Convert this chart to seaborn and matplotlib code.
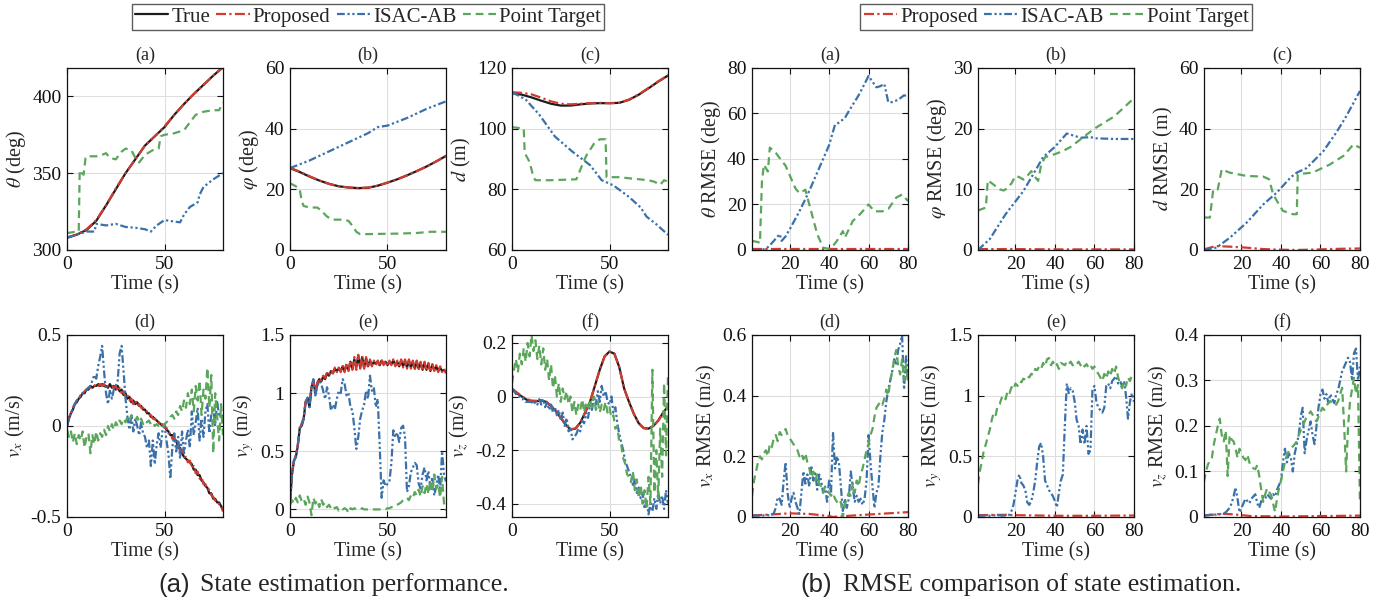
import matplotlib

matplotlib.use("Agg")

import matplotlib.pyplot as plt
import seaborn as sns
from matplotlib.lines import Line2D
from matplotlib.ticker import FuncFormatter

# ---------------- data ----------------
T1 = list(range(0, 81))          # 0..80 s, 1 s step
TR = list(range(1, 81))          # RMSE time axis, 1..80 s
T5 = list(range(0, 81, 5))
T25 = [i * 2.5 for i in range(33)]

# (a) theta
theta_true = [308, 310, 313, 319, 329, 339.5, 350, 359, 368, 374, 380, 388, 395, 401.5, 407.5, 413.5, 419]
theta_prop = [308, 310, 313.5, 319.5, 329, 340, 350, 359, 368, 374, 380.5, 388, 395, 401.5, 407.5, 413.5, 419]
theta_isac_t = [0, 5, 10, 14, 15, 20, 25, 30, 35, 40, 43, 46, 50, 55, 58, 60, 63, 67, 68, 70, 75, 80]
theta_isac = [308, 310, 312, 312, 317, 316, 317, 315, 314.5, 313.5, 312, 316, 319.5, 318.5, 318, 323, 328, 331, 336, 341, 346, 350]
theta_pt_t = [0, 5, 6, 6.5, 7.5, 8.5, 9.5, 10, 15, 18, 20, 22, 25, 28, 30, 33, 35, 37, 40, 44, 47, 48, 50, 55, 60, 63, 66, 70, 75, 78, 80]
theta_pt = [311, 312, 312, 352, 350, 349, 360, 361, 361, 362, 363, 360, 359, 364, 366, 365, 360, 357, 362, 365, 366, 374, 375, 376, 378, 383, 388, 390, 391, 391, 396]

# (b) varphi
phi_true = [27, 25.7, 24.2, 22.9, 21.8, 21, 20.6, 20.4, 20.5, 21.2, 22.2, 23.3, 24.6, 26, 27.5, 29.2, 31]
phi_prop = [27.1, 25.8, 24.3, 22.9, 21.8, 21, 20.6, 20.4, 20.6, 21.2, 22.2, 23.3, 24.6, 26, 27.5, 29.2, 31]
phi_isac_t = [0, 10, 20, 30, 40, 45, 50, 60, 70, 80]
phi_isac = [27, 29.5, 32.5, 35.5, 38.5, 40.5, 41, 43.5, 46.5, 49]
phi_pt_t = [0, 3, 5, 6, 7, 10, 14, 16, 19, 22, 27, 30, 32, 34, 36, 45, 55, 65, 72, 80]
phi_pt = [22, 21, 20, 16, 14.5, 14, 14, 13, 11, 10, 10, 9.6, 8, 6, 5.2, 5.3, 5.4, 5.6, 6, 6]

# (c) d
d_true = [111.7, 111.2, 110.3, 109.2, 108.2, 107.6, 107.6, 108, 108.3, 108.4, 108.4, 108.5, 109.5, 111.2, 113.3, 115.5, 117.5]
d_prop = [112, 111.8, 111.3, 110.2, 109, 108.2, 108, 108.2, 108.4, 108.5, 108.4, 108.5, 109.6, 111.3, 113.4, 115.6, 117.6]
d_isac_t = [0, 7, 14, 22, 31, 40, 46, 52, 60, 66, 69, 74, 80]
d_isac = [112, 109.6, 104.6, 97.4, 92.4, 88, 83, 81.3, 77.5, 74, 71, 68.5, 65]
d_pt_t = [0, 6, 6.5, 9, 11, 12, 20, 33, 36, 38, 42, 45, 48, 48.5, 50, 55, 62, 70, 73, 76, 78, 80]
d_pt = [100.5, 100, 92, 89, 84, 83, 83, 83.3, 88, 91, 95, 96.5, 96.5, 84, 84, 84, 83.5, 83, 82.5, 81.5, 83, 82.5]

# (d) v_x
vx_true = [0.00, 0.04, 0.07, 0.09, 0.12, 0.13, 0.15, 0.16, 0.18, 0.18, 0.20, 0.20, 0.22, 0.21, 0.22, 0.22, 0.23,
           0.22, 0.23, 0.22, 0.22, 0.21, 0.23, 0.21, 0.22, 0.20, 0.22, 0.19, 0.20, 0.17, 0.18, 0.15, 0.16, 0.13,
           0.14, 0.12, 0.13, 0.11, 0.11, 0.09, 0.09, 0.07, 0.07, 0.05, 0.05, 0.04, 0.03, 0.02, 0.01, 0.00, 0.00,
           -0.02, -0.03, -0.05, -0.05, -0.08, -0.08, -0.12, -0.12, -0.15, -0.17, -0.18, -0.19, -0.20, -0.21,
           -0.24, -0.24, -0.27, -0.27, -0.30, -0.31, -0.33, -0.34, -0.37, -0.37, -0.40, -0.40, -0.42, -0.42,
           -0.44, -0.46]
vx_prop = [0.00, 0.05, 0.07, 0.10, 0.12, 0.14, 0.15, 0.17, 0.18, 0.19, 0.20, 0.21, 0.21, 0.22, 0.22, 0.23, 0.22,
           0.23, 0.22, 0.23, 0.21, 0.22, 0.22, 0.22, 0.21, 0.22, 0.19, 0.21, 0.18, 0.19, 0.16, 0.17, 0.14, 0.15,
           0.12, 0.14, 0.11, 0.12, 0.10, 0.10, 0.08, 0.08, 0.06, 0.06, 0.04, 0.04, 0.02, 0.02, 0.00, 0.01, -0.01,
           -0.01, -0.04, -0.04, -0.07, -0.06, -0.10, -0.10, -0.14, -0.13, -0.17, -0.17, -0.20, -0.19, -0.23,
           -0.22, -0.26, -0.25, -0.29, -0.28, -0.32, -0.32, -0.35, -0.35, -0.38, -0.39, -0.41, -0.41, -0.43,
           -0.44, -0.47]
vx_isac = [0.00, 0.05, 0.07, 0.10, 0.12, 0.14, 0.15, 0.17, 0.18, 0.19, 0.20, 0.21, 0.22, 0.25, 0.28, 0.26, 0.33,
           0.38, 0.44, 0.30, 0.18, 0.12, 0.20, 0.15, 0.20, 0.22, 0.25, 0.40, 0.44, 0.30, 0.15, 0.05, -0.02, 0.06,
           -0.03, 0.04, 0.00, -0.05, 0.02, -0.04, -0.06, -0.12, -0.08, -0.22, -0.08, -0.21, -0.10, -0.04, -0.12,
           -0.02, 0.01, -0.08, -0.15, -0.29, -0.12, -0.04, -0.14, -0.06, -0.18, -0.03, -0.15, -0.08, -0.02,
           -0.12, 0.08, -0.05, 0.02, 0.10, -0.08, 0.04, -0.06, 0.08, 0.12, -0.04, 0.06, 0.10, 0.00, 0.14, 0.05,
           0.07, 0.04]
vx_pt = [-0.02, -0.06, -0.03, -0.09, -0.04, -0.10, -0.05, -0.08, -0.03, -0.12, -0.06, -0.04, -0.15, -0.05, -0.10,
         -0.03, -0.08, -0.04, -0.06, -0.02, -0.05, 0.00, -0.03, 0.01, -0.02, 0.02, 0.00, 0.03, 0.01, 0.04, 0.02,
         0.05, 0.03, 0.06, 0.04, 0.03, 0.05, 0.02, 0.04, 0.01, 0.03, 0.02, 0.03, 0.01, 0.02, 0.00, 0.01, 0.00,
         0.00, -0.01, 0.01, 0.02, 0.03, 0.05, 0.06, 0.04, 0.08, 0.06, 0.11, 0.08, 0.14, 0.10, 0.18, 0.12, 0.20,
         0.08, 0.22, 0.14, 0.25, 0.06, 0.20, 0.15, 0.32, 0.10, 0.28, -0.15, 0.18, 0.05, -0.08, 0.12, -0.05]

# (e) v_y
vy_true = [0.05, 0.30, 0.42, 0.45, 0.55, 0.70, 0.72, 0.78, 0.92, 0.96, 0.88, 1.05, 1.10, 1.00, 1.08, 1.12, 1.10,
           1.14, 1.12, 1.17, 1.15, 1.19, 1.17, 1.21, 1.19, 1.21, 1.19, 1.23, 1.19, 1.24, 1.20, 1.27, 1.21, 1.29,
           1.22, 1.32, 1.22, 1.31, 1.22, 1.30, 1.23, 1.28, 1.24, 1.27, 1.25, 1.27, 1.24, 1.28, 1.25, 1.27, 1.24,
           1.27, 1.25, 1.28, 1.24, 1.27, 1.23, 1.28, 1.23, 1.28, 1.22, 1.28, 1.22, 1.27, 1.21, 1.27, 1.21, 1.26,
           1.20, 1.26, 1.20, 1.25, 1.19, 1.24, 1.20, 1.23, 1.19, 1.22, 1.19, 1.20, 1.18]
vy_prop = [0.06, 0.32, 0.41, 0.47, 0.56, 0.69, 0.74, 0.79, 0.93, 0.95, 0.90, 1.06, 1.11, 1.01, 1.09, 1.13, 1.11,
           1.15, 1.13, 1.18, 1.16, 1.20, 1.17, 1.22, 1.18, 1.22, 1.18, 1.24, 1.18, 1.26, 1.19, 1.28, 1.20, 1.31,
           1.20, 1.33, 1.21, 1.32, 1.21, 1.31, 1.22, 1.29, 1.23, 1.28, 1.24, 1.28, 1.23, 1.29, 1.24, 1.28, 1.23,
           1.28, 1.24, 1.29, 1.23, 1.28, 1.22, 1.29, 1.22, 1.29, 1.21, 1.29, 1.21, 1.28, 1.20, 1.28, 1.20, 1.27,
           1.19, 1.27, 1.19, 1.26, 1.18, 1.25, 1.19, 1.24, 1.18, 1.23, 1.18, 1.21, 1.17]
vy_isac = [0.05, 0.30, 0.42, 0.45, 0.55, 0.70, 0.72, 0.78, 0.92, 0.96, 0.88, 1.05, 1.12, 0.98, 1.06, 1.10, 1.08,
           1.02, 0.95, 1.05, 0.98, 0.85, 0.90, 0.86, 0.95, 1.02, 1.00, 1.12, 1.08, 0.98, 1.00, 0.88, 0.85, 0.70,
           0.52, 0.62, 0.78, 0.85, 0.90, 1.02, 0.95, 1.15, 1.02, 1.05, 0.88, 0.95, 0.55, 0.10, 0.25, 0.20, 0.22,
           0.24, 0.40, 0.68, 0.62, 0.66, 0.58, 0.70, 0.72, 0.62, 0.15, 0.20, 0.32, 0.36, 0.40, 0.38, 0.22, 0.18,
           0.30, 0.36, 0.25, 0.33, 0.18, 0.28, 0.12, 0.20, 0.30, 0.16, 0.50, 0.30, 0.24]
vy_pt = [0.04, 0.08, 0.05, 0.10, 0.06, 0.12, 0.07, 0.09, 0.04, 0.11, 0.06, -0.05, 0.10, 0.05, 0.08, 0.02, 0.09,
         0.04, 0.06, 0.02, 0.04, 0.01, 0.03, 0.01, 0.02, -0.01, 0.01, 0.00, 0.01, 0.00, -0.03, 0.01, 0.00, 0.01,
         0.00, 0.00, 0.00, 0.01, 0.00, 0.00, 0.00, 0.00, 0.00, 0.00, 0.00, 0.00, 0.00, 0.00, 0.00, 0.00, 0.01,
         0.01, 0.02, 0.02, 0.03, 0.04, 0.05, 0.06, 0.08, 0.09, 0.10, 0.08, 0.12, 0.10, 0.15, 0.12, 0.17, 0.11,
         0.20, 0.14, 0.22, 0.13, 0.25, 0.15, 0.30, 0.18, 0.22, 0.10, 0.28, 0.05, -0.01]

# (f) v_z
vz_true = [0.027, 0.012, 0.0, -0.012, -0.018, -0.018, -0.015, -0.02, -0.035, -0.055, -0.08, -0.105, -0.123,
           -0.12, -0.098, -0.06, -0.02, 0.04, 0.10, 0.15, 0.168, 0.16, 0.11, 0.03, -0.02, -0.065, -0.10, -0.118,
           -0.12, -0.11, -0.09, -0.06, -0.037]
vz_prop = [0.03, 0.015, 0.002, -0.01, -0.015, -0.016, -0.014, -0.02, -0.034, -0.054, -0.079, -0.104, -0.122,
           -0.12, -0.097, -0.06, -0.02, 0.04, 0.10, 0.15, 0.168, 0.16, 0.11, 0.03, -0.02, -0.065, -0.10, -0.118,
           -0.12, -0.11, -0.09, -0.06, -0.035]
vz_isac = [0.03, 0.02, 0.01, 0.00, 0.00, -0.01, -0.01, -0.02, -0.02, -0.02, -0.02, -0.03, -0.02, -0.03, -0.01,
           -0.03, -0.01, -0.04, -0.02, -0.05, -0.03, -0.06, -0.04, -0.07, -0.05, -0.09, -0.06, -0.11, -0.08,
           -0.13, -0.12, -0.16, -0.15, -0.14, -0.12, -0.13, -0.09, -0.10, -0.06, -0.08, -0.03, -0.05, 0.00, -0.03,
           0.02, -0.02, 0.04, 0.00, 0.02, -0.02, -0.03, 0.00, -0.06, -0.04, -0.10, -0.14, -0.17, -0.20, -0.24,
           -0.26, -0.28, -0.30, -0.33, -0.31, -0.36, -0.34, -0.38, -0.36, -0.42, -0.39, -0.44, -0.40, -0.43,
           -0.38, -0.42, -0.36, -0.40, -0.37, -0.42, -0.35, -0.40]
vz_pt = [0.05, 0.10, 0.14, 0.09, 0.16, 0.12, 0.18, 0.13, 0.20, 0.15, 0.23, 0.17, 0.21, 0.14, 0.19, 0.12, 0.18,
         0.10, 0.14, 0.06, 0.12, 0.03, 0.08, 0.00, 0.05, -0.02, 0.03, -0.01, 0.02, -0.03, 0.00, -0.06, -0.02,
         -0.07, -0.03, -0.05, -0.01, -0.06, -0.02, -0.04, -0.01, -0.04, 0.00, -0.05, -0.02, -0.06, -0.03, -0.05,
         -0.02, -0.06, -0.04, -0.08, -0.07, -0.12, -0.11, -0.17, -0.18, -0.23, -0.25, -0.29, -0.30, -0.32, -0.28,
         -0.35, -0.31, -0.38, -0.33, -0.40, -0.35, -0.42, -0.30, -0.40, 0.10, -0.36, -0.20, -0.38, -0.12, -0.30,
         0.05, -0.22, 0.08]

# RMSE (a) theta
rtheta_prop_t = [1, 20, 40, 60, 80]
rtheta_prop = [0.3, 0.3, 0.3, 0.3, 0.3]
rtheta_isac_t = [1, 5, 8, 10, 13, 15, 16, 18, 20, 25, 30, 35, 40, 43, 45, 48, 50, 55, 58, 60, 62, 64, 66, 68, 70, 72, 75, 78, 80]
rtheta_isac = [0, 0, 0.5, 2, 5, 7, 4, 6, 9, 17, 26, 36, 46, 55, 56, 58, 61, 68, 73, 76.5, 74, 71.5, 72, 73, 65, 65, 66, 68, 67.5]
rtheta_pt_t = [1, 4, 5, 6, 7, 9, 10, 13, 18, 23, 25, 28, 30, 34, 37, 40, 41, 44, 47, 48, 52, 56, 60, 63, 67, 70, 74, 77, 80]
rtheta_pt = [4, 3.5, 3, 30, 37.5, 34.5, 45, 42.7, 37, 27, 25, 26.5, 20, 7, 1, 0.5, 0.7, 4, 8.3, 5.4, 12.7, 16, 20, 17, 17, 18, 23, 24.4, 21.5]

# RMSE (b) varphi
rphi_prop_t = [1, 20, 40, 60, 80]
rphi_prop = [0.15, 0.15, 0.1, 0.1, 0.1]
rphi_isac_t = [1, 7, 15, 24, 31, 34, 40, 46, 50, 53, 58, 61, 70, 80]
rphi_isac = [0, 1.8, 5.9, 9.7, 13.6, 15.3, 17, 19.2, 18.8, 18.5, 18.6, 18.4, 18.3, 18.3]
rphi_pt_t = [1, 5, 6, 8, 10, 12, 14, 16, 18, 20, 22, 24, 26, 28, 30, 31.5, 33, 35, 40, 44, 48, 52, 56, 60, 65, 70, 75, 80]
rphi_pt = [6.5, 7, 11.5, 11, 10.5, 10, 9.8, 10.2, 11, 12.2, 12, 11.6, 12.2, 13, 12, 11.4, 14, 15.3, 15.8, 16.3, 17, 18, 19, 20, 21, 22, 23.5, 25]

# RMSE (c) d
rd_prop_t = [1, 7, 14, 22, 31, 40, 48, 60, 70, 80]
rd_prop = [0.2, 1.3, 1.1, 0.8, 0.3, 0.1, 0.0, 0.2, 0.4, 0.5]
rd_isac_t = [1, 7.4, 14, 22.6, 31, 38, 45, 48, 53, 61.5, 68, 73, 80]
rd_isac = [0, 0.8, 4, 9, 15, 19, 24, 25.5, 27, 32.6, 38.7, 44, 52.4]
rd_pt_t = [1, 4, 5.7, 8, 10, 14, 22.6, 31, 34, 36, 39, 41, 46, 48, 48.5, 56, 64.8, 71.6, 76.7, 80]
rd_pt = [10.7, 10.7, 20, 20, 26.6, 25.5, 24.4, 24.2, 23.3, 18.4, 15, 12.9, 11.8, 11.8, 25, 25.5, 28.2, 31, 34.8, 33.7]

# RMSE (d) v_x
rvx_prop_t = [1, 10, 20, 30, 40, 42, 48, 55, 60, 70, 80]
rvx_prop = [0.005, 0.008, 0.012, 0.01, 0.003, 0.0, 0.003, 0.006, 0.008, 0.012, 0.016]
rvx_isac = [0.005, 0.005, 0.004, 0.005, 0.004, 0.006, 0.005, 0.004, 0.006, 0.005, 0.008, 0.012, 0.03, 0.065,
            0.06, 0.04, 0.12, 0.18, 0.08, 0.03, 0.06, 0.08, 0.05, 0.03, 0.01, 0.08, 0.15, 0.11, 0.14, 0.10, 0.17,
            0.12, 0.15, 0.09, 0.14, 0.12, 0.08, 0.10, 0.05, 0.12, 0.08, 0.28, 0.16, 0.20, 0.18, 0.10, 0.02, 0.06,
            0.03, 0.06, 0.15, 0.10, 0.05, 0.07, 0.05, 0.06, 0.04, 0.06, 0.12, 0.27, 0.18, 0.10, 0.03, 0.08, 0.10,
            0.20, 0.28, 0.32, 0.38, 0.42, 0.45, 0.48, 0.52, 0.50, 0.55, 0.57, 0.60, 0.42, 0.53, 0.45]
rvx_pt = [0.07, 0.12, 0.15, 0.18, 0.20, 0.19, 0.21, 0.22, 0.20, 0.24, 0.23, 0.26, 0.27, 0.25, 0.28, 0.27, 0.28,
          0.29, 0.27, 0.26, 0.25, 0.24, 0.23, 0.22, 0.20, 0.21, 0.19, 0.21, 0.18, 0.16, 0.13, 0.15, 0.12, 0.14,
          0.11, 0.10, 0.08, 0.10, 0.09, 0.08, 0.07, 0.08, 0.06, 0.05, 0.04, 0.05, 0.00, 0.04, 0.06, 0.08, 0.07,
          0.11, 0.08, 0.12, 0.10, 0.14, 0.16, 0.19, 0.22, 0.24, 0.27, 0.29, 0.33, 0.36, 0.37, 0.38, 0.37, 0.39,
          0.42, 0.40, 0.45, 0.48, 0.52, 0.55, 0.50, 0.47, 0.52, 0.45, 0.50, 0.44]

# RMSE (e) v_y
rvy_prop_t = [1, 15, 20, 40, 60, 80]
rvy_prop = [0.015, 0.018, 0.015, 0.01, 0.01, 0.012]
rvy_isac = [0.01, 0.01, 0.01, 0.012, 0.01, 0.012, 0.01, 0.012, 0.015, 0.01, 0.012, 0.015, 0.01, 0.012, 0.01,
            0.012, 0.02, 0.05, 0.10, 0.20, 0.30, 0.35, 0.28, 0.26, 0.22, 0.12, 0.10, 0.13, 0.20, 0.30, 0.45, 0.58,
            0.61, 0.50, 0.30, 0.26, 0.22, 0.20, 0.17, 0.13, 0.08, 0.20, 0.30, 0.35, 0.75, 1.10, 1.02, 1.06, 1.04,
            0.95, 0.80, 0.75, 0.60, 0.72, 0.60, 0.75, 0.52, 0.55, 1.05, 1.08, 0.95, 0.90, 0.88, 0.86, 0.90, 1.08,
            1.10, 1.06, 1.12, 1.14, 1.16, 1.10, 1.12, 1.08, 1.12, 1.00, 0.81, 0.95, 1.02, 0.95]
rvy_pt = [0.27, 0.38, 0.46, 0.55, 0.60, 0.66, 0.72, 0.80, 0.86, 0.84, 0.92, 0.93, 0.98, 1.00, 0.97, 1.04, 1.02,
          1.07, 1.05, 1.10, 1.08, 1.12, 1.11, 1.14, 1.13, 1.16, 1.15, 1.18, 1.17, 1.22, 1.21, 1.24, 1.22, 1.27,
          1.24, 1.30, 1.31, 1.25, 1.28, 1.24, 1.26, 1.22, 1.27, 1.26, 1.25, 1.28, 1.26, 1.28, 1.25, 1.27, 1.26,
          1.28, 1.25, 1.27, 1.24, 1.26, 1.23, 1.25, 1.22, 1.24, 1.20, 1.18, 1.15, 1.12, 1.18, 1.14, 1.20, 1.16,
          1.22, 1.18, 1.24, 1.15, 1.10, 1.06, 1.12, 1.08, 1.15, 1.12, 1.17, 1.19]

# RMSE (f) v_z
rvz_prop_t = [1, 10, 15, 25, 40, 60, 80]
rvz_prop = [0.003, 0.007, 0.006, 0.002, 0.001, 0.002, 0.003]
rvz_isac = [0.003, 0.004, 0.004, 0.005, 0.005, 0.006, 0.005, 0.006, 0.006, 0.007, 0.008, 0.010, 0.015, 0.020,
            0.030, 0.045, 0.065, 0.040, 0.010, 0.020, 0.030, 0.040, 0.035, 0.030, 0.040, 0.045, 0.050, 0.030,
            0.020, 0.035, 0.045, 0.040, 0.050, 0.045, 0.040, 0.050, 0.045, 0.060, 0.070, 0.080, 0.120, 0.150,
            0.120, 0.140, 0.130, 0.100, 0.140, 0.160, 0.180, 0.220, 0.240, 0.140, 0.170, 0.190, 0.210, 0.180,
            0.160, 0.200, 0.240, 0.270, 0.280, 0.260, 0.270, 0.250, 0.270, 0.260, 0.250, 0.270, 0.280, 0.300,
            0.320, 0.330, 0.340, 0.350, 0.340, 0.300, 0.360, 0.370, 0.300, 0.330]
rvz_pt = [0.077, 0.100, 0.115, 0.125, 0.130, 0.160, 0.180, 0.200, 0.216, 0.180, 0.166, 0.190, 0.090, 0.180,
          0.170, 0.166, 0.150, 0.130, 0.150, 0.140, 0.130, 0.125, 0.137, 0.120, 0.110, 0.107, 0.105, 0.114,
          0.090, 0.060, 0.033, 0.050, 0.063, 0.055, 0.048, 0.030, 0.011, 0.040, 0.063, 0.080, 0.100, 0.120,
          0.136, 0.145, 0.150, 0.155, 0.160, 0.166, 0.180, 0.190, 0.200, 0.210, 0.220, 0.225, 0.232, 0.225,
          0.215, 0.210, 0.220, 0.230, 0.240, 0.235, 0.245, 0.250, 0.255, 0.250, 0.245, 0.247, 0.255, 0.270,
          0.284, 0.200, 0.100, 0.200, 0.255, 0.280, 0.306, 0.270, 0.290, 0.033]

# ---------------- styling ----------------
COLORS = {
    "True": "#1c1c1c",
    "Proposed": "#d13b30",
    "ISAC-AB": "#3a71aa",
    "Point Target": "#5ca65c",
}
STYLES = {
    "True": "-",
    "Proposed": (0, (4.5, 1.5, 1.0, 1.5)),
    "ISAC-AB": (0, (3.5, 1.2, 1.0, 1.2, 1.0, 1.2)),
    "Point Target": (0, (3.5, 2.2)),
}
LW = 1.6
SERIF = "Liberation Serif"

sns.set_theme(style="ticks")
plt.rcParams["font.family"] = [SERIF, "DejaVu Serif"]
plt.rcParams["mathtext.fontset"] = "stix"
plt.rcParams["axes.unicode_minus"] = False

fig = plt.figure(figsize=(13.85, 6.09), dpi=100)

TOP_B, BOT_B, AX_H, AX_W = 0.5895, 0.1511, 0.2989, 0.1126
LEFT_X = [0.0484, 0.2094, 0.3697]
RIGHT_X = [0.5430, 0.7061, 0.8693]


def draw_panel(rect, series, xlim, xticks, ylim, yticks, ylabel, title):
    ax = fig.add_axes(rect)
    for name, t, v in series:
        sns.lineplot(x=t, y=v, ax=ax, color=COLORS[name], linestyle=STYLES[name],
                     linewidth=LW, estimator=None, sort=False)
    ax.set_xlim(*xlim)
    ax.set_ylim(*ylim)
    ax.set_xticks(xticks)
    ax.set_yticks(yticks)
    ax.yaxis.set_major_formatter(FuncFormatter(lambda v, p: f"{v:g}"))
    ax.grid(True, color="#dedede", linewidth=0.8)
    ax.set_axisbelow(True)
    ax.tick_params(direction="in", top=True, right=True, length=4, width=0.8,
                   labelsize=14, colors="#111111", pad=4)
    for sp in ax.spines.values():
        sp.set_color("#111111")
        sp.set_linewidth(0.9)
    ax.set_xlabel("Time (s)", fontsize=14.5, labelpad=2)
    ax.set_ylabel(ylabel, fontsize=14.5, labelpad=3)
    ax.set_title(title, fontsize=13, pad=6)
    return ax


# left group: state estimation
LX = (0, 80)
LXT = [0, 50]
draw_panel([LEFT_X[0], TOP_B, AX_W, AX_H],
           [("True", T5, theta_true), ("Proposed", T5, theta_prop),
            ("ISAC-AB", theta_isac_t, theta_isac), ("Point Target", theta_pt_t, theta_pt)],
           LX, LXT, (300, 418.5), [300, 350, 400], r"$\theta$ (deg)", "(a)")
draw_panel([LEFT_X[1], TOP_B, AX_W, AX_H],
           [("True", T5, phi_true), ("Proposed", T5, phi_prop),
            ("ISAC-AB", phi_isac_t, phi_isac), ("Point Target", phi_pt_t, phi_pt)],
           LX, LXT, (0, 60), [0, 20, 40, 60], r"$\varphi$ (deg)", "(b)")
draw_panel([LEFT_X[2], TOP_B, AX_W, AX_H],
           [("True", T5, d_true), ("Proposed", T5, d_prop),
            ("ISAC-AB", d_isac_t, d_isac), ("Point Target", d_pt_t, d_pt)],
           LX, LXT, (60, 120), [60, 80, 100, 120], r"$d$ (m)", "(c)")
draw_panel([LEFT_X[0], BOT_B, AX_W, AX_H],
           [("True", T1, vx_true), ("Proposed", T1, vx_prop),
            ("ISAC-AB", T1, vx_isac), ("Point Target", T1, vx_pt)],
           LX, LXT, (-0.5, 0.5), [-0.5, 0, 0.5], r"$v_x$ (m/s)", "(d)")
draw_panel([LEFT_X[1], BOT_B, AX_W, AX_H],
           [("True", T1, vy_true), ("Proposed", T1, vy_prop),
            ("ISAC-AB", T1, vy_isac), ("Point Target", T1, vy_pt)],
           LX, LXT, (-0.065, 1.5), [0, 0.5, 1, 1.5], r"$v_y$ (m/s)", "(e)")
draw_panel([LEFT_X[2], BOT_B, AX_W, AX_H],
           [("True", T25, vz_true), ("Proposed", T25, vz_prop),
            ("ISAC-AB", T1, vz_isac), ("Point Target", T1, vz_pt)],
           LX, LXT, (-0.45, 0.23), [-0.4, -0.2, 0, 0.2], r"$v_z$ (m/s)", "(f)")

# right group: RMSE
RX = (1, 80)
RXT = [20, 40, 60, 80]
draw_panel([RIGHT_X[0], TOP_B, AX_W, AX_H],
           [("Proposed", rtheta_prop_t, rtheta_prop), ("ISAC-AB", rtheta_isac_t, rtheta_isac),
            ("Point Target", rtheta_pt_t, rtheta_pt)],
           RX, RXT, (0, 80), [0, 20, 40, 60, 80], r"$\theta$ RMSE (deg)", "(a)")
draw_panel([RIGHT_X[1], TOP_B, AX_W, AX_H],
           [("Proposed", rphi_prop_t, rphi_prop), ("ISAC-AB", rphi_isac_t, rphi_isac),
            ("Point Target", rphi_pt_t, rphi_pt)],
           RX, RXT, (0, 30), [0, 10, 20, 30], r"$\varphi$ RMSE (deg)", "(b)")
draw_panel([RIGHT_X[2], TOP_B, AX_W, AX_H],
           [("Proposed", rd_prop_t, rd_prop), ("ISAC-AB", rd_isac_t, rd_isac),
            ("Point Target", rd_pt_t, rd_pt)],
           RX, RXT, (0, 60), [0, 20, 40, 60], r"$d$ RMSE (m)", "(c)")
draw_panel([RIGHT_X[0], BOT_B, AX_W, AX_H],
           [("Proposed", rvx_prop_t, rvx_prop), ("ISAC-AB", TR, rvx_isac),
            ("Point Target", TR, rvx_pt)],
           RX, RXT, (0, 0.6), [0, 0.2, 0.4, 0.6], r"$v_x$ RMSE (m/s)", "(d)")
draw_panel([RIGHT_X[1], BOT_B, AX_W, AX_H],
           [("Proposed", rvy_prop_t, rvy_prop), ("ISAC-AB", TR, rvy_isac),
            ("Point Target", TR, rvy_pt)],
           RX, RXT, (0, 1.5), [0, 0.5, 1, 1.5], r"$v_y$ RMSE (m/s)", "(e)")
draw_panel([RIGHT_X[2], BOT_B, AX_W, AX_H],
           [("Proposed", rvz_prop_t, rvz_prop), ("ISAC-AB", TR, rvz_isac),
            ("Point Target", TR, rvz_pt)],
           RX, RXT, (0, 0.4), [0, 0.1, 0.2, 0.3, 0.4], r"$v_z$ RMSE (m/s)", "(f)")


def make_handles(names):
    return [Line2D([0], [0], color=COLORS[n], linestyle=STYLES[n], linewidth=LW) for n in names]


legend_kw = dict(loc="center", frameon=True, fancybox=False, edgecolor="#333333",
                 fontsize=15, handlelength=1.6, handletextpad=0.15, columnspacing=0.3,
                 borderpad=0.15, borderaxespad=0)
left_names = ["True", "Proposed", "ISAC-AB", "Point Target"]
leg1 = fig.legend(make_handles(left_names), left_names, ncol=4,
                  bbox_to_anchor=(368 / 1385, 1 - 17 / 609), **legend_kw)
leg1.get_frame().set_linewidth(1.0)
right_names = ["Proposed", "ISAC-AB", "Point Target"]
leg2 = fig.legend(make_handles(right_names), right_names, ncol=3,
                  bbox_to_anchor=(1056 / 1385, 1 - 17 / 609), **legend_kw)
leg2.get_frame().set_linewidth(1.0)

# sub-figure captions
CAP_Y = 1 - 585 / 609
fig.text(158 / 1385, CAP_Y, "(a)", family="Liberation Sans", fontsize=18.5, va="center", ha="left")
fig.text(200 / 1385, CAP_Y, "State estimation performance.", family=SERIF, fontsize=18.5,
         va="center", ha="left")
fig.text(800 / 1385, CAP_Y, "(b)", family="Liberation Sans", fontsize=18.5, va="center", ha="left")
fig.text(843 / 1385, CAP_Y, "RMSE comparison of state estimation.", family=SERIF, fontsize=18.5,
         va="center", ha="left")

fig.savefig("out.png", dpi=100)
plt.close(fig)
